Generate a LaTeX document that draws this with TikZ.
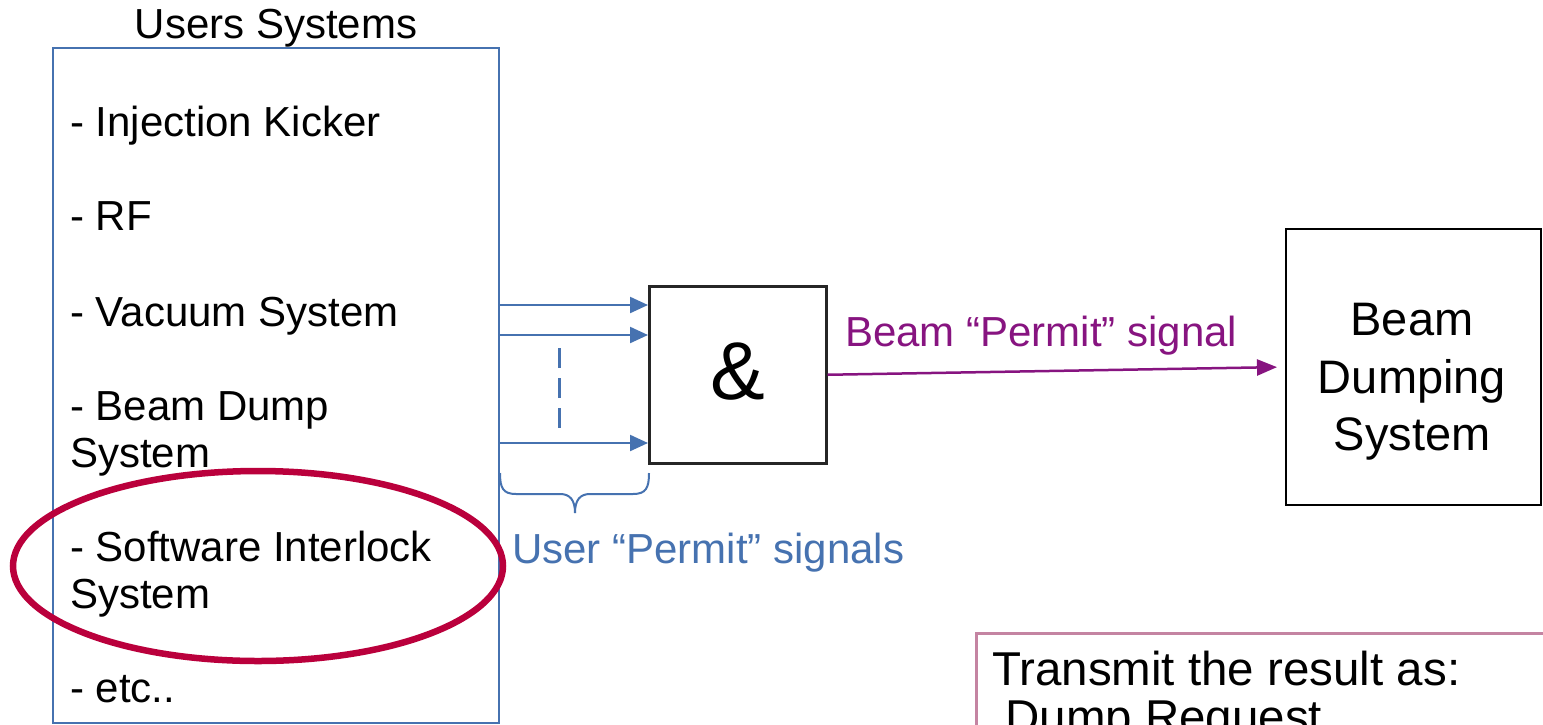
\documentclass[tikz,border=0pt]{standalone}
\usepackage{fontspec}
\setmainfont{Liberation Sans}
\usetikzlibrary{arrows.meta}
\definecolor{ublue}{RGB}{70,114,176}
\definecolor{upurple}{RGB}{135,20,128}
\definecolor{ured}{RGB}{186,0,60}
\definecolor{upink}{RGB}{196,132,162}
\tikzset{
  txt/.style={font=\fontsize{42}{50}\selectfont, inner sep=0pt, anchor=base west},
  bigtxt/.style={font=\fontsize{47}{54}\selectfont, inner sep=0pt, anchor=base},
  userbox/.style={draw=ublue, line width=2pt, minimum width=446pt, minimum height=675pt, anchor=north west, inner sep=0pt},
  andbox/.style={draw=black!85, line width=2.5pt, minimum width=177pt, minimum height=177pt, anchor=north west, inner sep=0pt},
  dumpbox/.style={draw=black, line width=2pt, minimum width=255pt, minimum height=276pt, anchor=north west, inner sep=0pt},
  notebox/.style={draw=upink, line width=3pt, minimum width=620pt, minimum height=160pt, anchor=north west, inner sep=0pt},
  bluearrow/.style={draw=ublue, line width=2.2pt, -{Triangle[length=18pt,width=16pt]}},
  purplearrow/.style={draw=upurple, line width=2.5pt, -{Triangle[length=20pt,width=16pt]}, shorten >=8pt},
}
\begin{document}
\begin{tikzpicture}[x=1pt,y=-1pt]
\useasboundingbox (0,0) rectangle (1543,724);
\clip (0,0) rectangle (1543,724);
\fill[white] (0,0) rectangle (1543,724);

% Users systems box
\node[txt, anchor=base] (title) at (276,38) {Users Systems};
\node[userbox] (users) at (52,47) {};
\node[txt] (i1) at (70,136) {- Injection Kicker};
\node[txt] (i2) at (70,230) {- RF};
\node[txt] (i3) at (70,326) {- Vacuum System};
\node[txt] (i4) at (70,420) {- Beam Dump};
\node[txt] (i4b) at (70,467) {System};
\node[txt] (i5) at (70,561) {- Software Interlock};
\node[txt] (i5b) at (70,608) {System};
\node[txt] (i6) at (70,702) {- etc..};

% red ring
\draw[ured, line width=6.5pt] (258,566) ellipse [x radius=245, y radius=95];

% AND gate
\node[andbox] (and) at (648,285) {};
\node[inner sep=0pt, font=\fontsize{82}{90}\selectfont] (amp) at (738,372) {\&};

% user permit arrows
\coordinate (s1) at (498,305);
\coordinate (s2) at (498,335);
\coordinate (s3) at (498,443);
\draw[bluearrow] (s1) -- (and.west |- s1);
\draw[bluearrow] (s2) -- (and.west |- s2);
\draw[bluearrow] (s3) -- (and.west |- s3);
\coordinate (d1) at (559,348);
\coordinate (d2) at (559,430);
\draw[ublue, line width=3pt, dash pattern=on 20pt off 10pt] (d1) -- (d2);

% brace
\coordinate (bl) at (500,473);
\coordinate (br) at (649,473);
\coordinate (bt) at (575,513);
\draw[ublue, line width=2pt]
  (bl) .. controls (500,488) and (503,494) .. (516,494) -- (560,494)
  .. controls (570,494) and (575,500) .. (bt);
\draw[ublue, line width=2pt]
  (br) .. controls (649,488) and (646,494) .. (633,494) -- (590,494)
  .. controls (580,494) and (575,500) .. (bt);
\node[txt, text=ublue, font=\fontsize{42}{50}\selectfont] (ulabel) at (512,563) {User “Permit” signals};

% Beam dumping system
\node[dumpbox] (dump) at (1285,228) {};
\node[bigtxt] (dt1) at (1412,335) {Beam};
\node[bigtxt] (dt2) at (1412,393) {Dumping};
\node[bigtxt] (dt3) at (1412,450) {System};

% beam permit arrow
\draw[purplearrow] (and.east) -- (dump.west);
\node[txt, text=upurple, font=\fontsize{42}{50}\selectfont] (plabel) at (845,346) {Beam “Permit” signal};

% note box
\node[notebox] (note) at (975,632) {};
\node[txt, font=\fontsize{47.5}{54}\selectfont] (n1) at (992,685) {Transmit the result as:};
\node[txt, font=\fontsize{47.5}{54}\selectfont] (n2) at (992,733) {\ Dump Request};
\end{tikzpicture}
\end{document}
